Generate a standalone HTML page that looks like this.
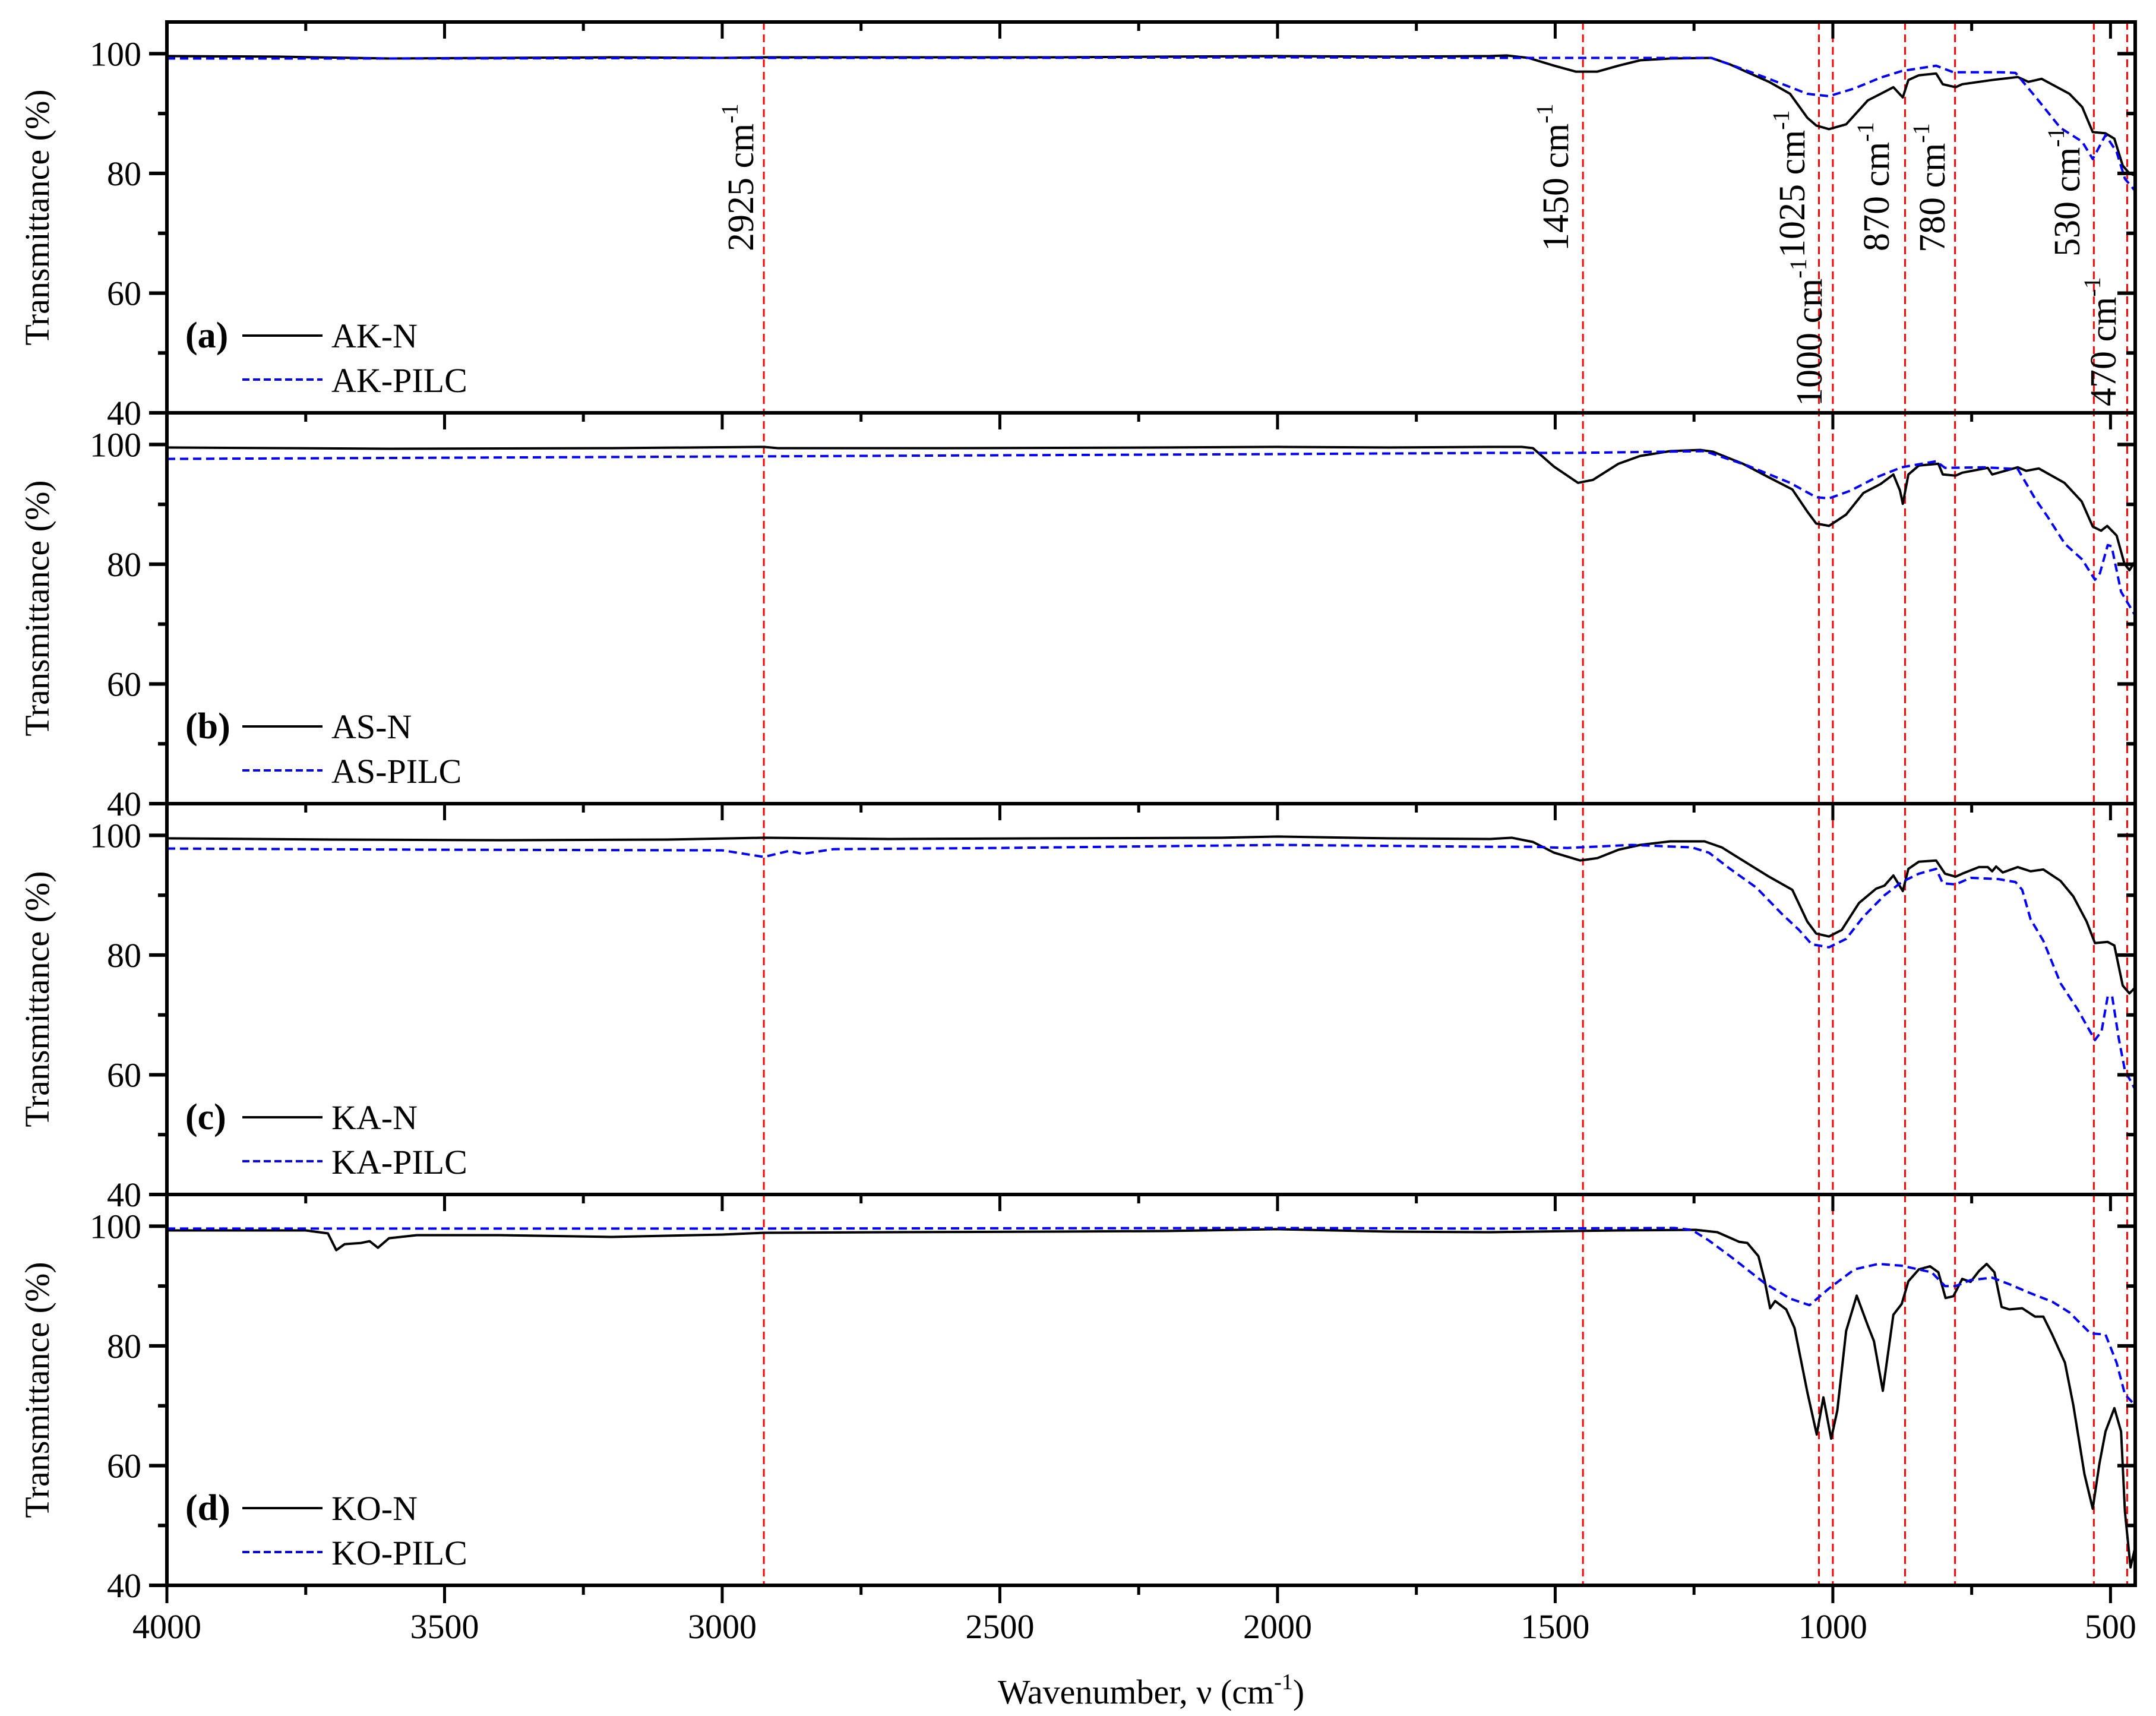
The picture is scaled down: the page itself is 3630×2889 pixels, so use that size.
<!DOCTYPE html>
<html><head><meta charset="utf-8"><style>
html,body{margin:0;padding:0;background:#fff;}
svg{display:block;font-family:"Liberation Serif","Times New Roman","DejaVu Serif",serif;}
svg text{font-family:"Liberation Serif","Times New Roman","DejaVu Serif",serif;}
</style></head><body>
<svg id="chart" xmlns="http://www.w3.org/2000/svg" width="3630" height="2889" viewBox="0 0 3630 2889" font-family="Liberation Serif, Times New Roman, DejaVu Serif, serif"></svg>
<script>
const akN_wn=[4000,3800,3600,3400,3200,3000,2925,2800,2600,2400,2200,2000,1800,1617,1587,1548,1502,1463,1424,1386,1347,1293,1219,1185,1154,1115,1077,1046,1030,1007,976,937,922,891,874,864,845,814,802,779,767,713,667,648,624,574,551,532,509,493,478,466,454];
const akN_T=[99.6,99.5,99.2,99.3,99.4,99.3,99.4,99.4,99.4,99.4,99.5,99.6,99.5,99.6,99.7,99.3,98,97,97,98,98.9,99.2,99.3,98.2,96.9,95.3,93.3,89.3,88,87.4,88.2,92.2,92.9,94.4,92.7,95.6,96.4,96.7,94.9,94.4,94.9,95.6,96.1,95.3,95.8,93.3,91.1,86.9,86.7,85.8,81.3,80,79.6];
const akP_wn=[4000,3500,3000,2500,2000,1617,1219,1185,1115,1046,1007,961,914,876,814,783,698,671,636,590,551,532,509,489,474,454];
const akP_T=[99.2,99.2,99.3,99.3,99.4,99.3,99.3,98.2,95.8,93.3,92.9,94.2,96,97.1,98,96.9,96.9,96.8,92.9,87.6,85.3,82.4,86.4,83.6,79.1,76.9];
const asN_wn=[4000,3600,3200,2925,2900,2600,2200,2000,1800,1617,1560,1540,1502,1459,1432,1386,1347,1293,1239,1216,1162,1115,1073,1046,1030,1007,976,945,914,891,879,874,864,845,810,802,779,767,721,713,667,652,629,583,552,532,517,506,489,475,466,455];
const asN_T=[99.5,99.3,99.4,99.6,99.4,99.4,99.5,99.6,99.5,99.6,99.6,99.4,96.3,93.6,94.1,96.8,98.1,98.9,99.1,98.8,96.8,94.5,92.5,88.8,86.8,86.4,88.3,91.9,93.4,95,92.3,90.1,95,96.5,96.8,95,94.8,95.3,96.1,95,96.2,95.6,96,93.6,90.5,86.3,85.6,86.4,84.8,80.1,79,80.6];
const asP_wn=[4000,3500,3000,2500,2000,1617,1462,1308,1231,1154,1077,1030,1007,968,922,876,814,798,729,667,636,613,582,551,528,519,505,498,481,454];
const asP_T=[97.6,97.8,98,98.2,98.4,98.6,98.6,98.8,98.9,96.5,93.6,91.2,91,92.3,94.5,96.2,97.2,96.1,96.2,95.9,91,87.9,83.4,80.8,77.4,78.5,83.2,83,75.4,71.2];
const kaN_wn=[4000,3700,3400,3100,2925,2700,2400,2100,2000,1800,1617,1578,1540,1502,1455,1424,1386,1347,1293,1231,1200,1162,1115,1073,1046,1030,1007,984,953,922,907,891,874,864,845,814,798,779,767,737,721,713,706,694,667,644,621,590,567,543,528,505,493,478,466,454];
const kaN_T=[99.5,99.3,99.2,99.3,99.6,99.4,99.5,99.6,99.8,99.5,99.4,99.6,98.9,97.1,95.8,96.2,97.6,98.4,99,99,98,95.8,93.1,90.9,85.6,83.6,83.1,84.2,88.7,91.1,91.6,93.3,90.7,94.4,95.6,95.8,93.6,93.1,93.6,94.7,94.7,94,94.8,93.8,94.7,94,94.3,92.4,89.8,85.6,82,82.2,81.6,74.9,73.6,74.7];
const kaP_wn=[4000,3500,3000,2925,2880,2855,2800,2500,2000,1617,1540,1478,1362,1254,1223,1185,1138,1092,1061,1038,1007,976,945,907,876,845,814,802,779,752,702,671,659,644,621,590,559,528,516,505,497,485,474,454];
const kaP_T=[97.8,97.6,97.5,96.4,97.4,96.9,97.7,97.9,98.4,98.1,98.1,97.9,98.4,98,97.1,94.4,91.3,86.9,84.2,81.8,81.3,82.7,86.4,90,92.2,93.6,94.4,92,91.8,92.9,92.7,92.2,90.9,86,82.4,75.3,70.9,65.8,67.3,73.1,73.1,66,60.7,57.3];
const koN_wn=[4000,3750,3710,3695,3680,3650,3635,3620,3600,3550,3400,3200,3000,2925,2700,2400,2200,2000,1800,1617,1386,1247,1208,1169,1154,1134,1123,1113,1104,1084,1069,1046,1029,1017,1003,992,976,957,937,926,910,891,876,864,845,825,810,797,783,767,752,737,723,709,696,682,659,636,621,605,582,567,547,532,520,509,493,481,474,464,454];
const koN_T=[99.3,99.3,98.8,96,97,97.2,97.5,96.4,98,98.5,98.5,98.2,98.6,98.9,99,99.1,99.2,99.5,99.1,99,99.3,99.4,99,97.4,97.2,95,91,86.3,87.5,86.1,83,72.3,65.2,71.4,64.5,69.2,82.5,88.4,83.4,80.8,72.5,85.2,87,90.8,92.8,93.3,92.3,88,88.3,91.2,90.7,92.5,93.7,92.3,86.5,86.1,86.3,84.9,84.9,81.9,77.2,70.1,58.6,52.8,60.3,65.7,69.6,65.7,52.3,43,47];
const koP_wn=[4000,3000,2000,1617,1285,1254,1223,1185,1123,1077,1042,1007,961,918,876,822,798,779,752,713,682,644,605,574,536,509,489,474,454];
const koP_T=[99.6,99.6,99.7,99.6,99.7,99.4,97.6,95,90.5,87.9,86.8,89.6,92.8,93.7,93.4,92.3,90,90,91,91.4,90.3,88.8,87.4,85.6,82.1,81.9,77.2,71.9,69.9];
const xTickLabels=[4000,3500,3000,2500,2000,1500,1000,500];
const yTickLabels=[40,60,80,100];
const markerWn=[2925,1450,1025,1000,870,780,530,470];
const panelTags=["(a)","(b)","(c)","(d)"];
const seriesNames=[["AK-N","AK-PILC"],["AS-N","AS-PILC"],["KA-N","KA-PILC"],["KO-N","KO-PILC"]];

const NS="http://www.w3.org/2000/svg";
const FF="Liberation Serif, Times New Roman, DejaVu Serif, serif";
const svg=document.getElementById('chart');
const L=281,R=3595,WN0=4000,WN1=455.5,TOP=37,PH=658,YMIN=40,YMAX=105.3;
function X(w){return L+(WN0-w)/(WN0-WN1)*(R-L);}
function Y(p,v){const b=TOP+PH*(p+1);return b-(v-YMIN)/(YMAX-YMIN)*PH;}
function mk(tag,attrs,parent){const e=document.createElementNS(NS,tag);for(const k in attrs)e.setAttribute(k,attrs[k]);if(tag==='text')e.setAttribute('font-family',FF);(parent||svg).appendChild(e);return e;}

const data=[[[akN_wn,akN_T],[akP_wn,akP_T]],[[asN_wn,asN_T],[asP_wn,asP_T]],[[kaN_wn,kaN_T],[kaP_wn,kaP_T]],[[koN_wn,koN_T],[koP_wn,koP_T]]];
const defs=mk('defs',{});
for(let p=0;p<4;p++){
  const cp=mk('clipPath',{id:'clip'+p},defs);
  mk('rect',{x:L,y:TOP+PH*p,width:R-L,height:PH},cp);
}
markerWn.forEach(w=>{
  const l=mk('line',{x1:X(w),x2:X(w),y1:TOP,y2:TOP+4*PH,stroke:'#ff0000','stroke-width':3,'stroke-dasharray':'13,8'});
  
  
});
for(let p=0;p<4;p++){
  const g=mk('g',{});
  
  
  const top=TOP+PH*p,bot=top+PH;
  data[p].forEach((s,i)=>{
    const pts=s[0].map((w,k)=>X(w).toFixed(1)+','+Y(p,s[1][k]).toFixed(1)).join(' ');
    const pl=mk('polyline',{points:pts,fill:'none',stroke:i?'#0000ff':'#000','stroke-width':4,'stroke-dasharray':i?'14,8':'none','stroke-linejoin':'round','clip-path':'url(#clip'+p+')'},g);
    
    
  });
  const fr=mk('rect',{x:L,y:top,width:R-L,height:PH,fill:'none',stroke:'#000','stroke-width':6},g);
  
  
  for(let w=4000;w>=500;w-=250){
    const maj=w%500===0;
    mk('line',{x1:X(w),x2:X(w),y1:top,y2:top+(maj?28:15),stroke:'#000','stroke-width':5},g);
    if(p===3){mk('line',{x1:X(w),x2:X(w),y1:bot,y2:bot+(maj?30:16),stroke:'#000','stroke-width':5},g);}
  }
  for(let v=40;v<=100;v+=10){
    const maj=v%20===0,y=Y(p,v);
    mk('line',{x1:L,x2:L-(maj?30:15),y1:y,y2:y,stroke:'#000','stroke-width':6},g);
    mk('line',{x1:R,x2:R-(maj?30:15),y1:y,y2:y,stroke:'#000','stroke-width':6},g);
  }
  yTickLabels.forEach(v=>{
    const t=mk('text',{x:238,y:Y(p,v)+20,'font-size':58,'text-anchor':'end'},g);
    t.textContent=v;
    
    
  });
  const yt=mk('text',{x:0,y:0,'font-size':58,'text-anchor':'middle',transform:'translate(82,'+(top+PH/2)+') rotate(-90)'},g);
  yt.textContent='Transmittance (%)';
  
  
  const tag=mk('text',{x:312,y:bot-110,'font-size':62,'font-weight':'bold'},g);
  tag.textContent=panelTags[p];
  
  
  mk('line',{x1:408,x2:543,y1:bot-130,y2:bot-130,stroke:'#000','stroke-width':4},g);
  mk('line',{x1:408,x2:543,y1:bot-56,y2:bot-56,stroke:'#0000ff','stroke-width':4,'stroke-dasharray':'12,6'},g);
  for(let i=0;i<2;i++){
    const lt=mk('text',{x:558,y:(i?bot-35:bot-110),'font-size':58},g);
    lt.textContent=seriesNames[p][i];
    
    
  }
}
xTickLabels.forEach(w=>{
  const t=mk('text',{x:X(w),y:2758,'font-size':58,'text-anchor':'middle'});
  t.textContent=w;
  
  
});
const xt=mk('text',{x:1938,y:2868,'font-size':58,'text-anchor':'middle'});
xt.innerHTML='Wavenumber, ν (cm<tspan dy="-24" font-size="38">-1</tspan><tspan dy="24">)</tspan>';


const annWn=[2925,1450,1025,1000,870,780,530,470];
const annCx=[1247,2619,3017,3046,3159,3253,3480,3541];
const annBottom=[423,423,434,684,423,425,432,684];
annWn.forEach((w,i)=>{
  const t=mk('text',{'font-size':62,transform:'translate('+(annCx[i]+21)+','+annBottom[i]+') rotate(-90)'});
  t.innerHTML=w+' cm<tspan dy="-26" font-size="40">-1</tspan>';
  
  
});
</script>
</body></html>
